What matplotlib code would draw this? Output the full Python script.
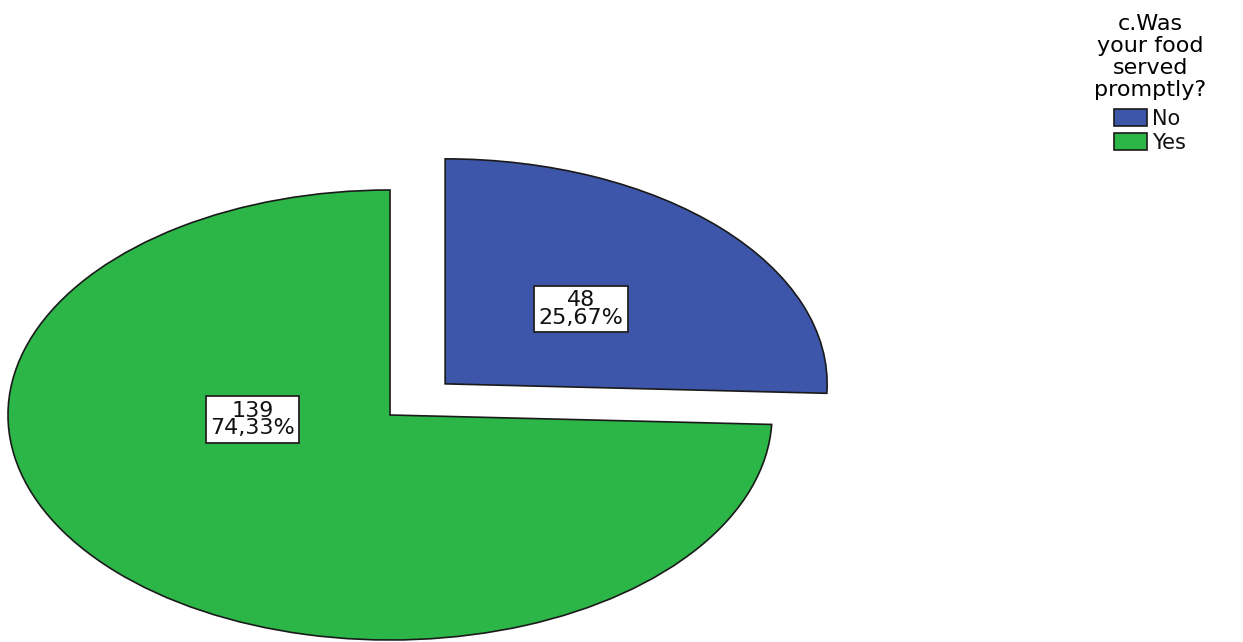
import matplotlib.pyplot as plt

categories = ["No", "Yes"]
counts = [48, 139]
percents = ["25,67%", "74,33%"]
colors = ["#3D56A9", "#2DB648"]
explode = [0.2, 0.0]
# label box centres in data units (SPSS places them oddly)
label_x = [0.50, -0.36]
label_y = [0.47, -0.02]

plt.rcParams['font.family'] = ['DejaVu Sans']

fig = plt.figure(figsize=(12.43, 6.42), dpi=100)
ax = fig.add_axes([0, 0, 1, 1])

wedges, _ = ax.pie(counts, colors=colors, explode=explode, startangle=90,
                   counterclock=False,
                   wedgeprops=dict(edgecolor="#1a1a1a", linewidth=1.2))
ax.set_aspect('auto')
# pixel mapping: centre at (390, 415), rx = 382 px, ry = 225 px
ax.set_xlim(-390 / 382, (1243 - 390) / 382)
ax.set_ylim(-(642 - 415) / 225, 415 / 225)
ax.axis('off')

for i in range(len(counts)):
    ax.text(label_x[i], label_y[i], "%d\n%s" % (counts[i], percents[i]),
            ha='center', va='center', fontsize=16, linespacing=0.85,
            color='#111111',
            bbox=dict(boxstyle='square,pad=0.2', facecolor='white',
                      edgecolor='#222222', linewidth=1.3))

leg = fig.legend(wedges, categories, title="c.Was\nyour food\nserved\npromptly?",
                 loc='upper center', bbox_to_anchor=(1150 / 1243, 1.005),
                 frameon=False, fontsize=15, title_fontsize=16,
                 handlelength=1.6, handleheight=0.9, handletextpad=0.25,
                 labelspacing=0.2, borderpad=0.35)
leg.get_title().set_multialignment('center')
leg.get_title().set_linespacing(1.12)
leg._legend_box.sep = 6
for t in leg.get_texts():
    t.set_color('#111111')

fig.savefig("out.png", dpi=100)
